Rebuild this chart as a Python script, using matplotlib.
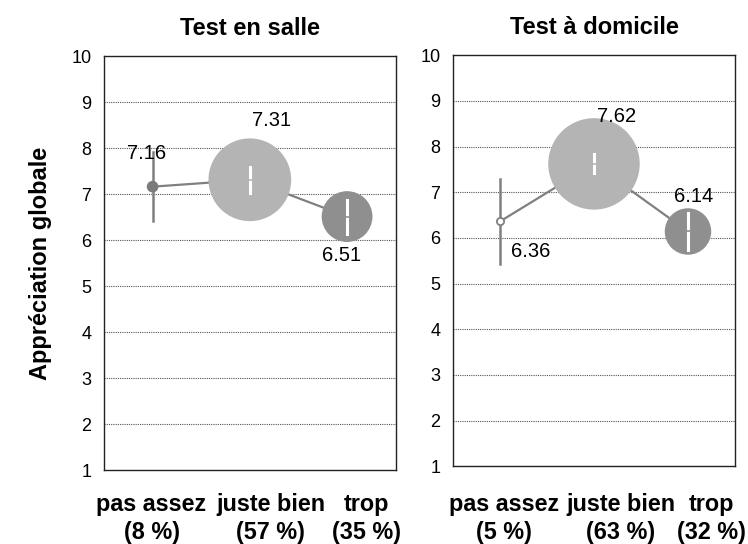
import matplotlib
matplotlib.use("Agg")
import matplotlib.pyplot as plt

plt.rcParams['font.family'] = ['Liberation Sans', 'DejaVu Sans']

categories = ['pas assez', 'juste bien', 'trop']

salle_pct = [8, 57, 35]
salle_mean = [7.16, 7.31, 6.51]
salle_err = [0.75, 0.28, 0.37]

dom_pct = [5, 63, 32]
dom_mean = [6.36, 7.62, 6.14]
dom_err = [0.93, 0.21, 0.40]

titles = ['Test en salle', 'Test à domicile']
yticks = list(range(1, 11))

GRAY_LINE = '#808080'
BUBBLE_COLORS = ['#7a7a7a', '#b4b4b4', '#8f8f8f']

# label offsets (points) relative to each bubble centre
salle_offsets = [(-4, 24), (16, 43), (-4, -28)]
dom_offsets = [(22, -22), (16, 34), (4, 25)]
# horizontal position (axes fraction) of the category captions
salle_cap_x = [0.163, 0.572, 0.90]
dom_cap_x = [0.181, 0.596, 0.918]


def draw_panel(ax, pct, mean, err, title, offsets, cap_x, open_first=False):
    x = [1, 2, 3]
    ax.plot(x, mean, color=GRAY_LINE, lw=1.6, zorder=2)
    sizes = [(1.045 * p) ** 2 for p in pct]
    for i in range(3):
        if i == 0:
            # long gray error bar for the small group
            ax.plot([x[i], x[i]], [mean[i] - err[i], mean[i] + err[i]],
                    color=GRAY_LINE, lw=1.8, zorder=3)
            if open_first:
                ax.scatter(x[i], mean[i], s=sizes[i], facecolor='white',
                           edgecolor=GRAY_LINE, linewidth=1.3, zorder=4)
            else:
                ax.scatter(x[i], mean[i], s=sizes[i], color=BUBBLE_COLORS[i],
                           edgecolor='none', zorder=4)
        else:
            ax.scatter(x[i], mean[i], s=sizes[i], color=BUBBLE_COLORS[i],
                       edgecolor='none', zorder=3)
            ax.plot([x[i], x[i]], [mean[i] - err[i], mean[i] + err[i]],
                    color='white', lw=2.2, zorder=4)
            ax.plot(x[i], mean[i], marker='_', ms=3, mew=1.2,
                    color=BUBBLE_COLORS[i], zorder=5)
        ax.annotate(f"{mean[i]:.2f}", xy=(x[i], mean[i]), xytext=offsets[i],
                    textcoords='offset points', ha='center', va='center',
                    fontsize=14.5, zorder=6)

    ax.set_xlim(0.5, 3.5)
    ax.set_ylim(1, 10)
    ax.set_yticks(yticks)
    ax.set_yticklabels([str(t) for t in yticks], fontsize=13)
    ax.set_xticks([])
    ax.tick_params(axis='both', length=0)
    ax.tick_params(axis='y', pad=9)
    for yv in range(2, 10):
        ax.axhline(yv, color='#555555', lw=0.8, ls=(0, (1, 1)), zorder=1)
    for sp in ax.spines.values():
        sp.set_color('#222222')
        sp.set_linewidth(1.0)
    ax.set_title(title, fontsize=17, fontweight='bold', pad=15)

    # category captions below the axes
    pos = ax.get_position()
    for i in range(3):
        fx = pos.x0 + cap_x[i] * pos.width
        fig.text(fx, 0.047, f"{categories[i]}\n({pct[i]} %)", ha='center',
                 va='center', ma='center', fontsize=16.8, fontweight='bold',
                 linespacing=1.3)


fig = plt.figure(figsize=(7.48, 5.44), dpi=100)
ax1 = fig.add_axes([0.139, 0.136, 0.390, 0.761])
ax2 = fig.add_axes([0.6056, 0.143, 0.377, 0.7555])

draw_panel(ax1, salle_pct, salle_mean, salle_err, titles[0], salle_offsets, salle_cap_x)
draw_panel(ax2, dom_pct, dom_mean, dom_err, titles[1], dom_offsets, dom_cap_x,
           open_first=True)

ax1.set_ylabel('Appréciation globale', fontsize=17, fontweight='bold', labelpad=14)

fig.savefig('out.png', dpi=100)
